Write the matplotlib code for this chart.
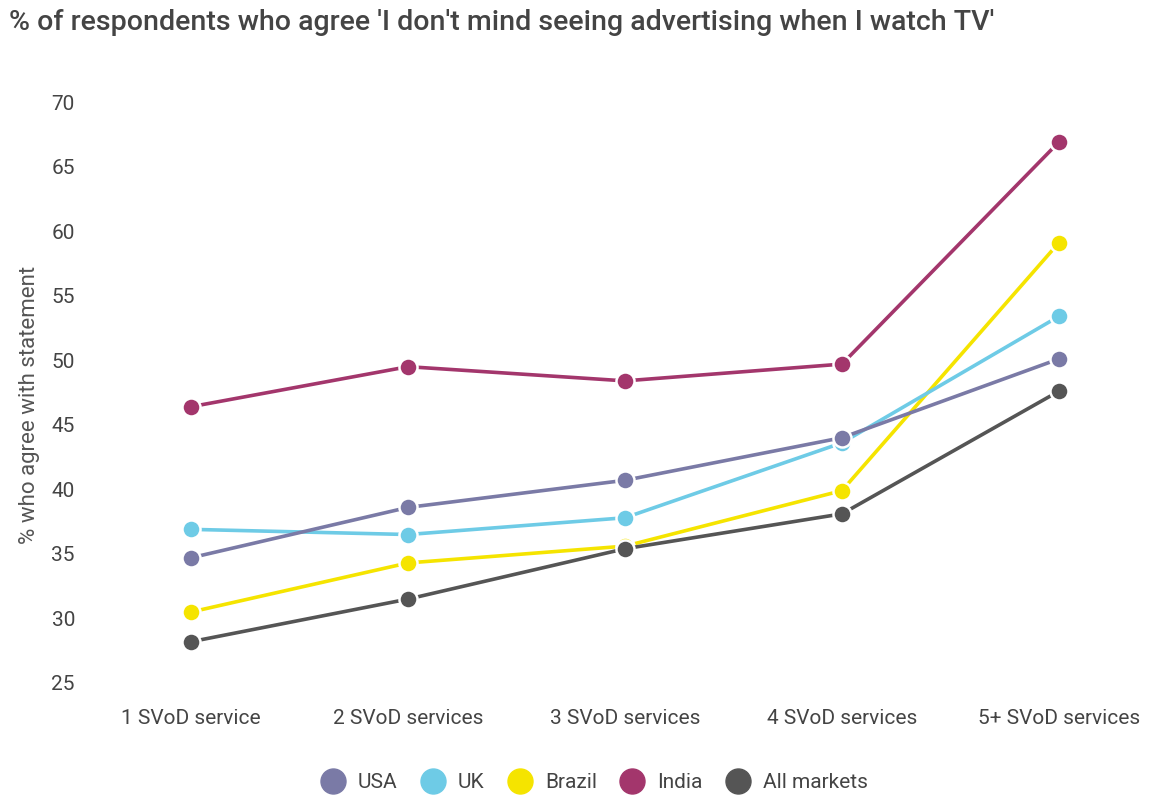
import matplotlib

matplotlib.use("Agg")
import matplotlib.pyplot as plt
from matplotlib.lines import Line2D

plt.rcParams["font.family"] = ["Roboto", "DejaVu Sans"]

CATEGORIES = ["1 SVoD service", "2 SVoD services", "3 SVoD services", "4 SVoD services", "5+ SVoD services"]
SERIES_NAMES = ["USA", "UK", "Brazil", "India", "All markets"]

USA = [34.7, 38.6, 40.7, 44.0, 50.1]
UK = [36.9, 36.5, 37.8, 43.6, 53.4]
BRAZIL = [30.5, 34.3, 35.6, 39.9, 59.1]
INDIA = [46.4, 49.5, 48.4, 49.7, 66.9]
ALL_MARKETS = [28.2, 31.5, 35.4, 38.1, 47.6]

COLORS = ["#7a7aa6", "#6ecbe6", "#f5e400", "#a3366c", "#555555"]

Y_TICKS = [25, 30, 35, 40, 45, 50, 55, 60, 65, 70]

TEXT_COLOR = "#444444"


def main() -> None:
    fig = plt.figure(figsize=(11.5, 7.96), dpi=100)
    ax = fig.add_axes([100 / 1150, 113 / 796, 1050 / 1150, 581 / 796])

    x = list(range(len(CATEGORIES)))
    # draw in an order that keeps India and All markets readable on top
    draw_order = [2, 1, 0, 3, 4]
    series = [USA, UK, BRAZIL, INDIA, ALL_MARKETS]
    for i in draw_order:
        ax.plot(
            x,
            series[i],
            color=COLORS[i],
            linewidth=2.6,
            marker="o",
            markersize=13,
            markerfacecolor=COLORS[i],
            markeredgecolor="white",
            markeredgewidth=1.8,
            solid_capstyle="round",
            clip_on=False,
            zorder=3,
        )

    ax.set_xlim(-0.42, 4.42)
    ax.set_ylim(25, 70)
    ax.set_yticks(Y_TICKS)
    ax.set_xticks(x)
    ax.set_xticklabels(CATEGORIES)
    ax.tick_params(axis="both", length=0, labelsize=15, labelcolor=TEXT_COLOR)
    ax.tick_params(axis="y", pad=18)
    ax.tick_params(axis="x", pad=18.5)
    for spine in ax.spines.values():
        spine.set_visible(False)

    ax.set_ylabel("% who agree with statement", fontsize=16, color="#555555")
    ax.yaxis.set_label_coords(-0.057, 0.478)

    fig.text(
        9 / 1150,
        1 - 22 / 796,
        "% of respondents who agree 'I don't mind seeing advertising when I watch TV'",
        fontsize=20.5,
        fontweight="medium",
        color=TEXT_COLOR,
        ha="left",
        va="center",
    )

    handles = [
        Line2D([], [], linestyle="none", marker="o", markersize=18, markerfacecolor=c, markeredgecolor=c)
        for c in COLORS
    ]
    fig.legend(
        handles,
        SERIES_NAMES,
        loc="center",
        bbox_to_anchor=(593 / 1150, 1 - 783 / 796),
        ncol=5,
        frameon=False,
        fontsize=15,
        labelcolor=TEXT_COLOR,
        handletextpad=0.5,
        columnspacing=1.0,
        handlelength=1.4,
    )

    fig.savefig("out.png", dpi=100)
    plt.close(fig)


if __name__ == "__main__":
    main()
